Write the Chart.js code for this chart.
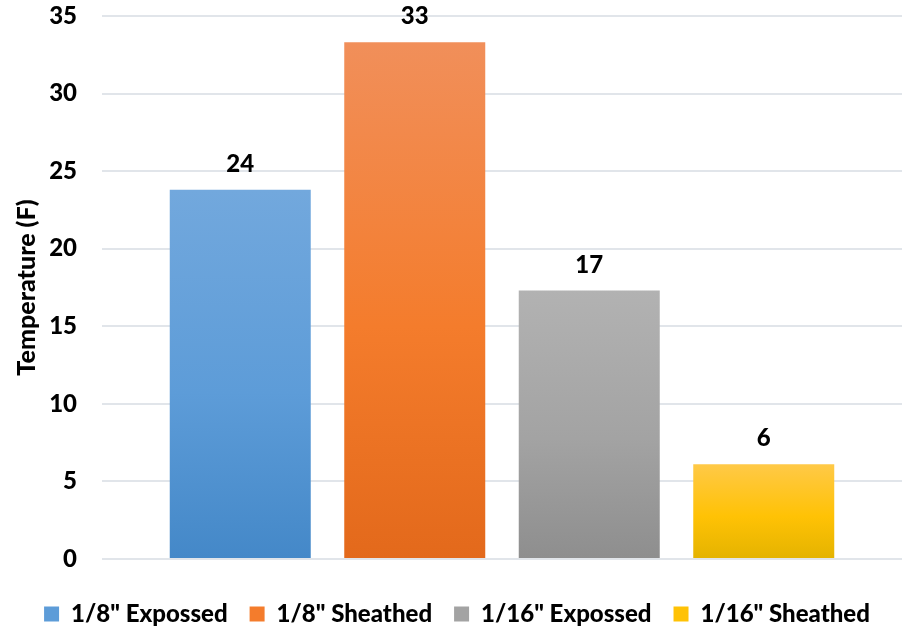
<!DOCTYPE html>
<html>
<head>
<meta charset="utf-8">
<script src="https://cdn.jsdelivr.net/npm/chart.js@4"></script>
<style>
  html, body { margin: 0; padding: 0; background: #ffffff; }
  #wrap { width: 902px; height: 627px; }
</style>
</head>
<body>
<div id="wrap"><canvas id="chart-temp"></canvas></div>
<script>
// Temperature rise per wire size / covering

const seriesLabels = ['1/8" Expossed', '1/8" Sheathed', '1/16" Expossed', '1/16" Sheathed'];
const seriesValues = [23.8, 33.3, 17.3, 6.1];
const yTicks = [0, 5, 10, 15, 20, 25, 30, 35];

// top, middle, bottom of each bar's gradient
const seriesColors = [
  ["#72a8dd", "#5d9cd8", "#4488c8"],
  ["#f18f5a", "#f47c2c", "#e3691b"],
  ["#b2b2b2", "#a3a3a3", "#8e8e8e"],
  ["#ffc947", "#ffc205", "#e4b300"],
];

const FONT = "Lato, 'Open Sans', sans-serif";
const WEIGHT = "900";

function barFill(context) {
  const chart = context.chart;
  const area = chart.chartArea;
  const cols = seriesColors[context.datasetIndex];
  if (!area) return cols[1];
  const yScale = chart.scales.y;
  const top = yScale.getPixelForValue(seriesValues[context.datasetIndex]);
  const bottom = yScale.getPixelForValue(0);
  const g = chart.ctx.createLinearGradient(0, top, 0, bottom);
  g.addColorStop(0, cols[0]);
  g.addColorStop(0.55, cols[1]);
  g.addColorStop(1, cols[2]);
  return g;
}

// value labels above each bar
const valueLabels = {
  id: "valueLabels",
  afterDatasetsDraw(chart) {
    const ctx = chart.ctx;
    ctx.save();
    ctx.fillStyle = "#000000";
    ctx.font = WEIGHT + " 24px " + FONT;
    ctx.textAlign = "center";
    ctx.textBaseline = "alphabetic";
    chart.data.datasets.forEach((ds, i) => {
      const meta = chart.getDatasetMeta(i);
      meta.data.forEach((bar, j) => {
        ctx.fillText(Math.round(ds.data[j]).toString(), bar.x, bar.y - 18);
      });
    });
    ctx.restore();
  },
};

const datasets = seriesLabels.map((label, i) => ({
  label: label,
  data: [seriesValues[i]],
  backgroundColor: barFill,
  borderWidth: 0,
  barPercentage: 0.808,
  categoryPercentage: 0.8725,
}));

const ctx = document.getElementById("chart-temp").getContext("2d");
new Chart(ctx, {
  type: "bar",
  data: {
    labels: [""],
    datasets: datasets,
  },
  options: {
    responsive: true,
    maintainAspectRatio: false,
    animation: false,
    events: [],
    layout: {
      padding: { top: 0, right: 0, bottom: -9, left: 12 },
    },
    plugins: {
      legend: {
        position: "bottom",
        labels: {
          boxWidth: 15,
          boxHeight: 15,
          padding: 22,
          color: "#000000",
          font: { family: FONT, size: 24, weight: WEIGHT },
          generateLabels: function (chart) {
            return chart.data.datasets.map((ds, i) => ({
              text: ds.label,
              fillStyle: seriesColors[i][1],
              strokeStyle: seriesColors[i][1],
              lineWidth: 0,
              datasetIndex: i,
              hidden: false,
            }));
          },
        },
      },
      tooltip: { enabled: false },
    },
    scales: {
      x: {
        grid: { display: false },
        border: { display: false },
        ticks: { display: false },
        afterFit: function (axis) {
          axis.height = 21;
        },
      },
      y: {
        min: 0,
        max: 35,
        afterBuildTicks: function (axis) {
          axis.ticks = yTicks.map((v) => ({ value: v }));
        },
        afterFit: function (axis) {
          axis.width = 90;
          axis.paddingTop = 16;
          axis.paddingBottom = 0;
        },
        grid: {
          color: "#e1e5ea",
          lineWidth: 2,
          drawTicks: false,
        },
        border: { display: false },
        ticks: {
          padding: 25,
          color: "#000000",
          font: { family: FONT, size: 24, weight: WEIGHT },
        },
        title: {
          display: true,
          text: "Temperature (F)",
          color: "#000000",
          font: { family: FONT, size: 25, weight: WEIGHT },
          padding: { top: 0, bottom: 8 },
        },
      },
    },
  },
  plugins: [valueLabels],
});
</script>
</body>
</html>
